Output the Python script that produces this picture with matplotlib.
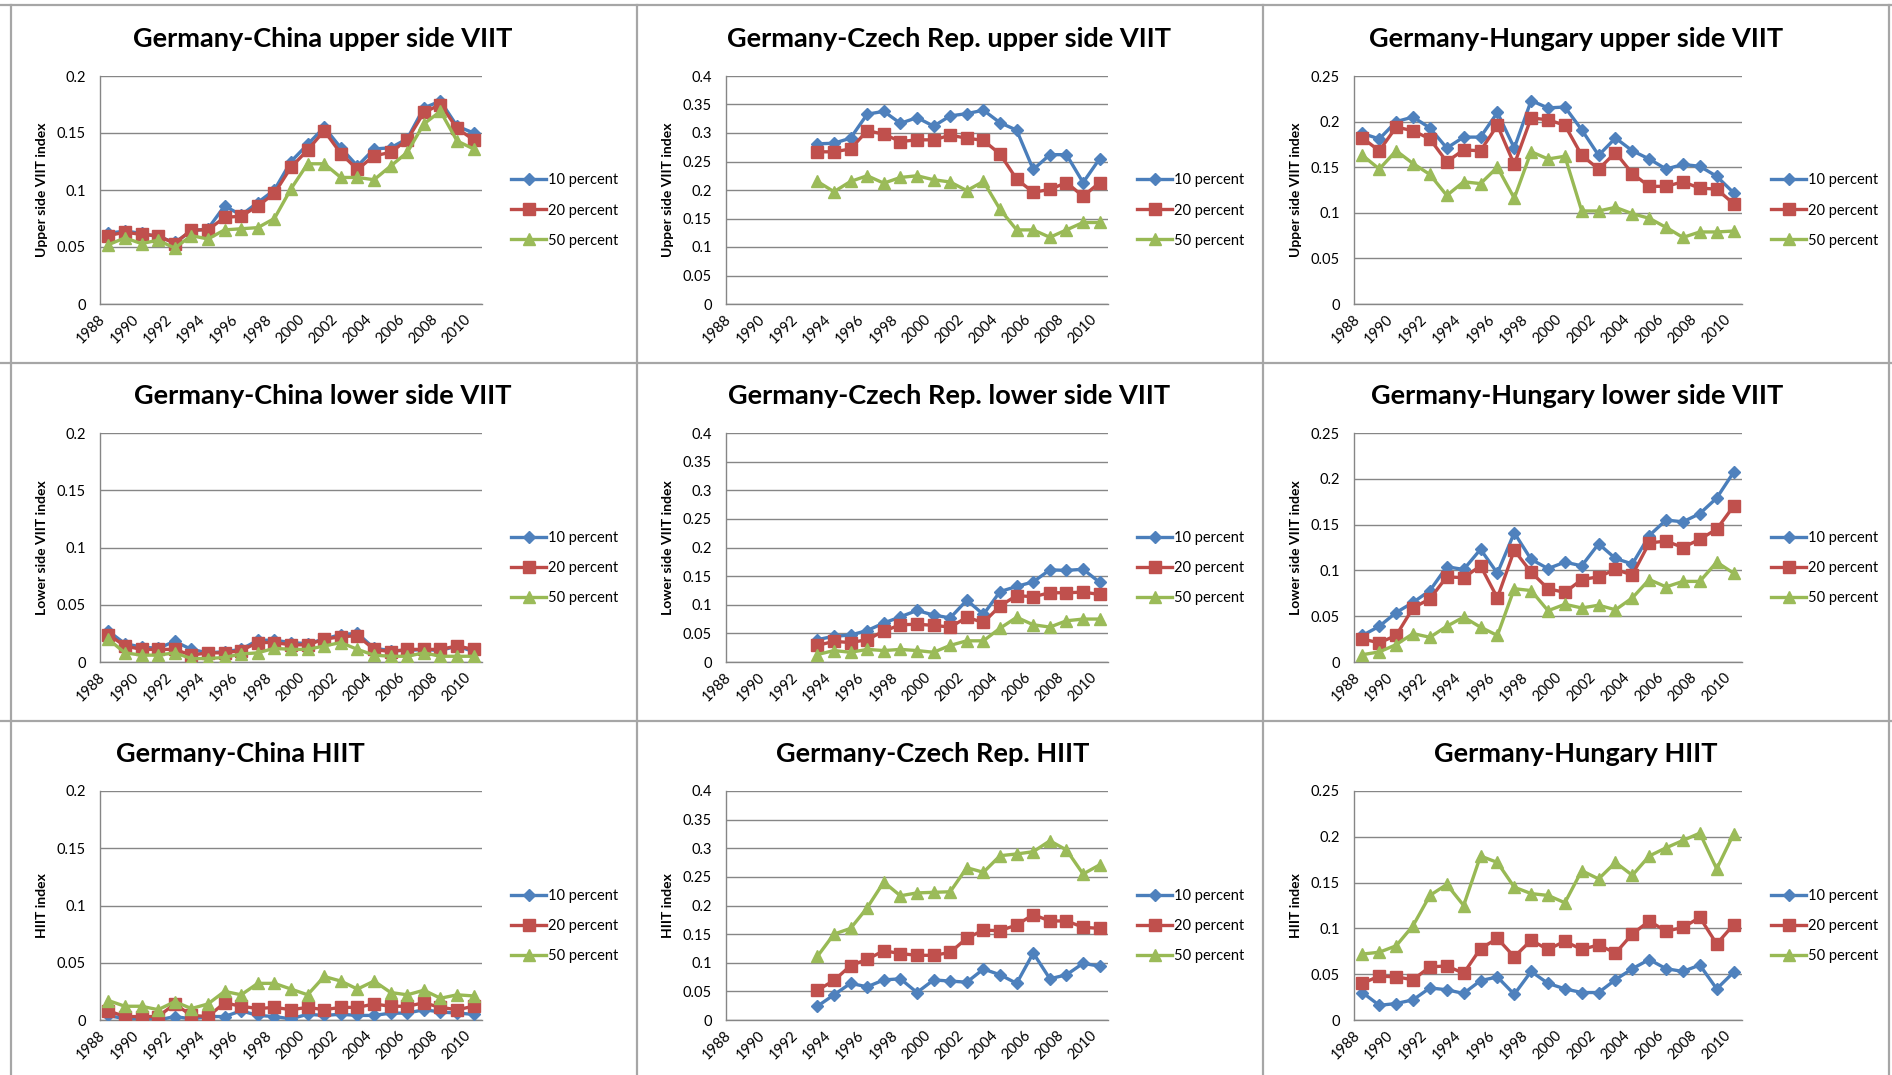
import numpy as np
import matplotlib
matplotlib.use("Agg")
import matplotlib.pyplot as plt
from matplotlib.lines import Line2D

plt.rcParams['font.family'] = ['Lato', 'DejaVu Sans']

years = list(range(1988, 2011))
series_labels = ["10 percent", "20 percent", "50 percent"]
nan = np.nan
pre = [nan] * 5  # 1988-1992 missing for Czech Rep.

# Germany-China upper side VIIT
cn_up_10 = [0.062, 0.064, 0.062, 0.059, 0.054, 0.064, 0.066, 0.086, 0.078, 0.089, 0.100, 0.125, 0.140, 0.155, 0.137, 0.121, 0.136, 0.137, 0.145, 0.172, 0.178, 0.156, 0.150]
cn_up_20 = [0.060, 0.063, 0.061, 0.060, 0.053, 0.065, 0.065, 0.076, 0.077, 0.086, 0.097, 0.120, 0.135, 0.152, 0.132, 0.118, 0.130, 0.133, 0.144, 0.168, 0.175, 0.154, 0.144]
cn_up_50 = [0.052, 0.058, 0.053, 0.056, 0.049, 0.060, 0.057, 0.065, 0.066, 0.067, 0.075, 0.101, 0.123, 0.123, 0.111, 0.111, 0.109, 0.121, 0.133, 0.158, 0.169, 0.143, 0.136]

# Germany-Czech Rep. upper side VIIT
cz_up_10 = pre + [0.281, 0.282, 0.291, 0.333, 0.338, 0.317, 0.327, 0.312, 0.330, 0.334, 0.340, 0.318, 0.305, 0.236, 0.262, 0.262, 0.213, 0.255]
cz_up_20 = pre + [0.267, 0.267, 0.272, 0.304, 0.298, 0.285, 0.288, 0.288, 0.296, 0.291, 0.287, 0.263, 0.219, 0.196, 0.201, 0.213, 0.189, 0.213]
cz_up_50 = pre + [0.215, 0.197, 0.215, 0.225, 0.212, 0.222, 0.225, 0.218, 0.214, 0.199, 0.215, 0.166, 0.130, 0.130, 0.117, 0.130, 0.143, 0.143]

# Germany-Hungary upper side VIIT
hu_up_10 = [0.187, 0.181, 0.200, 0.205, 0.193, 0.171, 0.183, 0.183, 0.210, 0.171, 0.223, 0.215, 0.216, 0.191, 0.163, 0.182, 0.168, 0.159, 0.148, 0.153, 0.151, 0.140, 0.122]
hu_up_20 = [0.182, 0.168, 0.194, 0.190, 0.181, 0.156, 0.169, 0.168, 0.196, 0.153, 0.204, 0.202, 0.196, 0.163, 0.148, 0.166, 0.143, 0.129, 0.129, 0.134, 0.127, 0.126, 0.110]
hu_up_50 = [0.163, 0.148, 0.168, 0.154, 0.142, 0.119, 0.134, 0.132, 0.150, 0.116, 0.167, 0.159, 0.162, 0.102, 0.102, 0.106, 0.099, 0.094, 0.084, 0.073, 0.079, 0.079, 0.080]

# Germany-China lower side VIIT
cn_lo_10 = [0.027, 0.016, 0.013, 0.012, 0.018, 0.011, 0.008, 0.009, 0.011, 0.019, 0.019, 0.017, 0.016, 0.020, 0.024, 0.025, 0.012, 0.010, 0.010, 0.011, 0.010, 0.014, 0.009]
cn_lo_20 = [0.024, 0.014, 0.011, 0.011, 0.011, 0.006, 0.008, 0.008, 0.010, 0.017, 0.017, 0.015, 0.015, 0.020, 0.022, 0.023, 0.011, 0.009, 0.011, 0.011, 0.011, 0.014, 0.011]
cn_lo_50 = [0.020, 0.008, 0.006, 0.006, 0.008, 0.003, 0.003, 0.004, 0.007, 0.008, 0.012, 0.011, 0.011, 0.014, 0.017, 0.011, 0.006, 0.005, 0.005, 0.008, 0.005, 0.005, 0.005]

# Germany-Czech Rep. lower side VIIT
cz_lo_10 = pre + [0.039, 0.045, 0.047, 0.055, 0.068, 0.079, 0.090, 0.082, 0.077, 0.108, 0.083, 0.123, 0.132, 0.140, 0.161, 0.160, 0.162, 0.139]
cz_lo_20 = pre + [0.029, 0.036, 0.034, 0.039, 0.054, 0.065, 0.066, 0.064, 0.061, 0.078, 0.069, 0.098, 0.116, 0.114, 0.121, 0.121, 0.122, 0.118]
cz_lo_50 = pre + [0.013, 0.020, 0.017, 0.022, 0.020, 0.022, 0.020, 0.017, 0.029, 0.037, 0.037, 0.059, 0.078, 0.065, 0.061, 0.072, 0.075, 0.075]

# Germany-Hungary lower side VIIT
hu_lo_10 = [0.029, 0.039, 0.054, 0.065, 0.078, 0.104, 0.101, 0.123, 0.097, 0.141, 0.112, 0.102, 0.109, 0.105, 0.129, 0.113, 0.107, 0.138, 0.155, 0.153, 0.162, 0.179, 0.207]
hu_lo_20 = [0.025, 0.021, 0.029, 0.059, 0.069, 0.093, 0.092, 0.105, 0.070, 0.122, 0.098, 0.080, 0.076, 0.090, 0.093, 0.101, 0.095, 0.130, 0.132, 0.125, 0.134, 0.145, 0.170]
hu_lo_50 = [0.008, 0.011, 0.019, 0.031, 0.027, 0.039, 0.049, 0.038, 0.029, 0.080, 0.078, 0.056, 0.063, 0.059, 0.062, 0.057, 0.070, 0.090, 0.082, 0.088, 0.088, 0.109, 0.097]

# Germany-China HIIT
cn_h_10 = [0.004, 0.001, 0.001, 0.000, 0.003, 0.001, 0.003, 0.003, 0.008, 0.004, 0.003, 0.001, 0.005, 0.004, 0.005, 0.004, 0.004, 0.006, 0.006, 0.009, 0.007, 0.006, 0.005]
cn_h_20 = [0.008, 0.003, 0.003, 0.003, 0.014, 0.004, 0.003, 0.015, 0.012, 0.010, 0.011, 0.009, 0.011, 0.009, 0.011, 0.011, 0.014, 0.012, 0.012, 0.015, 0.011, 0.009, 0.012]
cn_h_50 = [0.017, 0.012, 0.012, 0.009, 0.016, 0.010, 0.014, 0.025, 0.022, 0.032, 0.032, 0.027, 0.022, 0.038, 0.034, 0.027, 0.034, 0.024, 0.022, 0.026, 0.019, 0.022, 0.021]

# Germany-Czech Rep. HIIT
cz_h_10 = pre + [0.024, 0.044, 0.064, 0.058, 0.070, 0.072, 0.048, 0.070, 0.068, 0.066, 0.089, 0.079, 0.064, 0.117, 0.072, 0.079, 0.099, 0.094]
cz_h_20 = pre + [0.052, 0.069, 0.095, 0.106, 0.121, 0.116, 0.113, 0.113, 0.118, 0.143, 0.157, 0.156, 0.166, 0.184, 0.173, 0.173, 0.162, 0.160]
cz_h_50 = pre + [0.111, 0.150, 0.160, 0.196, 0.241, 0.217, 0.222, 0.223, 0.224, 0.266, 0.258, 0.287, 0.290, 0.294, 0.313, 0.297, 0.255, 0.271]

# Germany-Hungary HIIT
hu_h_10 = [0.030, 0.016, 0.018, 0.022, 0.035, 0.033, 0.029, 0.043, 0.047, 0.028, 0.053, 0.040, 0.034, 0.030, 0.030, 0.044, 0.056, 0.066, 0.056, 0.053, 0.060, 0.034, 0.052]
hu_h_20 = [0.040, 0.048, 0.047, 0.044, 0.058, 0.059, 0.051, 0.078, 0.089, 0.069, 0.087, 0.077, 0.086, 0.077, 0.082, 0.073, 0.094, 0.108, 0.097, 0.101, 0.112, 0.083, 0.104]
hu_h_50 = [0.072, 0.074, 0.081, 0.103, 0.136, 0.148, 0.125, 0.179, 0.172, 0.145, 0.138, 0.136, 0.128, 0.163, 0.154, 0.172, 0.158, 0.179, 0.188, 0.196, 0.204, 0.165, 0.203]

titles = ["Germany-China upper side VIIT", "Germany-Czech Rep. upper side VIIT", "Germany-Hungary upper side VIIT",
          "Germany-China lower side VIIT", "Germany-Czech Rep. lower side VIIT", "Germany-Hungary lower side VIIT",
          "Germany-China HIIT", "Germany-Czech Rep. HIIT", "Germany-Hungary HIIT"]
ylabels = ["Upper side VIIT index"] * 3 + ["Lower side VIIT index"] * 3 + ["HIIT index"] * 3
panel_data = [(cn_up_10, cn_up_20, cn_up_50), (cz_up_10, cz_up_20, cz_up_50), (hu_up_10, hu_up_20, hu_up_50),
              (cn_lo_10, cn_lo_20, cn_lo_50), (cz_lo_10, cz_lo_20, cz_lo_50), (hu_lo_10, hu_lo_20, hu_lo_50),
              (cn_h_10, cn_h_20, cn_h_50), (cz_h_10, cz_h_20, cz_h_50), (hu_h_10, hu_h_20, hu_h_50)]
ymax_list = [0.2, 0.4, 0.25] * 3
ytick_labels = {0.2: ["0", "0.05", "0.1", "0.15", "0.2"],
                0.4: ["0", "0.05", "0.1", "0.15", "0.2", "0.25", "0.3", "0.35", "0.4"],
                0.25: ["0", "0.05", "0.1", "0.15", "0.2", "0.25"]}

W, H = 1892, 1075
fig = plt.figure(figsize=(W / 100, H / 100), dpi=100)

col_lr = [(100, 482), (726, 1108), (1354, 1742)]
row_tb = [(76, 304), (433, 662), (791, 1020)]
ylab_x = [42, 668, 1296]
title_x = [323, 949, 1576, 323, 949, 1577, 240, 933, 1576]
title_y = [39, 396, 754]

line_colors = ["#4A7EBB", "#BE4B48", "#98B954"]
marker_colors = ["#4F81BD", "#C0504D", "#9BBB59"]
markers = ["D", "s", "^"]
msizes = [6, 8, 9]

border_col = "#A6A6A6"
# panel borders
for xb in [11, 637, 1263, 1889]:
    fig.add_artist(Line2D([xb / W, xb / W], [0, 1 - 5 / H], color=border_col, lw=1.6))
for yb in [5, 363, 721]:
    fig.add_artist(Line2D([0, 1], [1 - yb / H, 1 - yb / H], color=border_col, lw=1.6))

x = np.arange(len(years))
for i in range(9):
    r, c = divmod(i, 3)
    l, rr = col_lr[c]
    t, b = row_tb[r]
    ax = fig.add_axes([l / W, 1 - b / H, (rr - l) / W, (b - t) / H])
    ymax = ymax_list[i]
    for k in range(3):
        ax.plot(x, panel_data[i][k], color=line_colors[k], lw=2.4, marker=markers[k],
                markersize=msizes[k], markerfacecolor=marker_colors[k],
                markeredgecolor=marker_colors[k], label=series_labels[k], zorder=3 + k)
    ax.set_xlim(-0.5, len(years) - 0.5)
    ax.set_ylim(0, ymax)
    yt = np.arange(0, ymax + 1e-9, 0.05)
    ax.set_yticks(yt)
    ax.set_yticklabels(ytick_labels[ymax], fontsize=10.5)
    ax.set_xticks(x[::2])
    ax.set_xticklabels([str(y) for y in years[::2]], rotation=45, ha='right', va='top', fontsize=10.5)
    ax.tick_params(axis='both', length=0)
    ax.tick_params(axis='y', pad=10)
    ax.tick_params(axis='x', pad=6)
    ax.grid(axis='y', color='#868686', lw=1.0)
    ax.set_axisbelow(True)
    for s in ['top', 'right']:
        ax.spines[s].set_visible(False)
    for s in ['left', 'bottom']:
        ax.spines[s].set_color('#868686')
        ax.spines[s].set_linewidth(1.0)
    fig.text(ylab_x[c] / W, 1 - ((t + b) / 2) / H, ylabels[i], rotation=90, ha='center', va='center',
             fontsize=10, fontweight='bold')
    fig.text(title_x[i] / W, 1 - title_y[r] / H, titles[i], ha='center', va='center',
             fontsize=19.5, fontweight='bold')
    leg_x = (col_lr[c][1] + 29 - l) / (rr - l)
    ax.legend(loc='center left', bbox_to_anchor=(leg_x, 0.41), frameon=False, fontsize=10.5,
              handlelength=2.4, handletextpad=0.15, labelspacing=1.1, borderpad=0, borderaxespad=0)

fig.savefig("out.png", dpi=100)
